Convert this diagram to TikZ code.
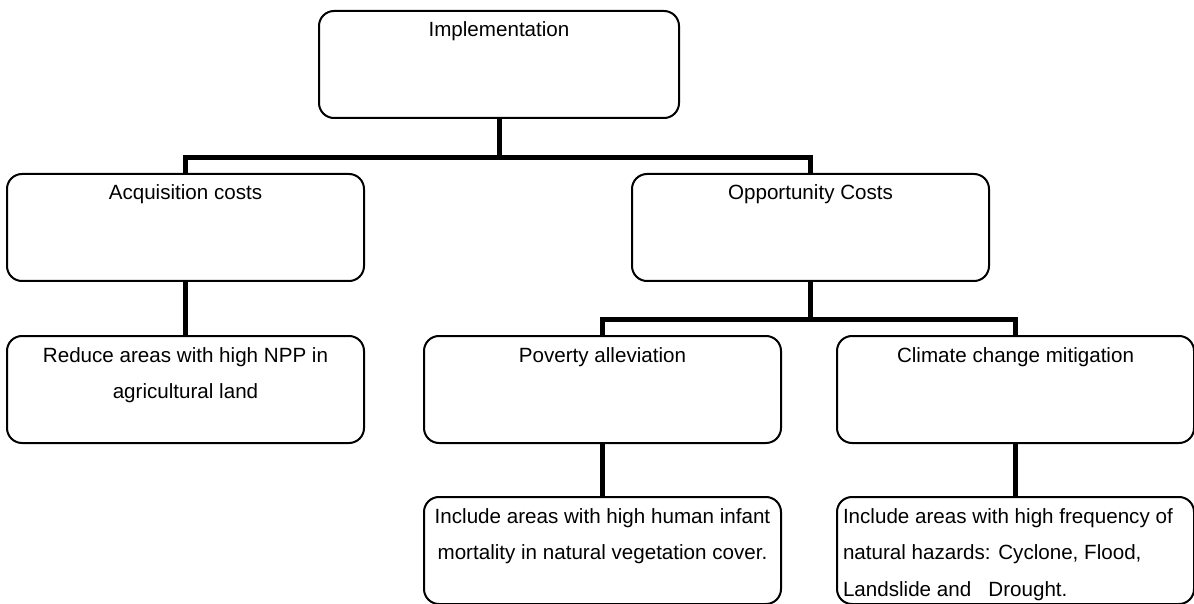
\documentclass[tikz,border=0pt]{standalone}
\usepackage{fontspec}
\setmainfont{Liberation Sans}
\usepackage{tikz}

% text sits at the top of each box
\newcommand{\boxtext}[2][\centering]{\parbox[c][53.5pt][t]{178.5pt}{\fontsize{10.3}{18.3}\selectfont#1\rule{0pt}{13pt}#2}}

\tikzset{
    box/.style={draw, line width=1pt, rounded corners=7.5pt, inner sep=0pt, anchor=north west, fill=white},
    conn/.style={line width=2.5pt}
}

\begin{document}
\begin{tikzpicture}[x=0.5pt, y=-0.5pt]
            \fill[white] (0, 0) rectangle (1194, 604);
            \useasboundingbox (0, 0) rectangle (1194, 604);

            \node[box, minimum width=180pt] (impl) at (318, 10) {\boxtext{Implementation}};

            \node[box] (acq) at (6, 173) {\boxtext{Acquisition costs}};
            \node[box] (opp) at (631, 173) {\boxtext{Opportunity Costs}};

            \node[box] (red) at (6, 335) {\boxtext{Reduce areas with high NPP in\\agricultural land}};
            \node[box] (pov) at (423, 335) {\boxtext{Poverty alleviation}};
            \node[box] (clim) at (836, 335) {\boxtext{Climate change mitigation}};

            \node[box] (inf) at (423, 496) {\boxtext{Include areas with high human infant\\mortality in natural vegetation cover.}};
            \node[box] (haz) at (836, 496) {\boxtext[\raggedright\leftskip=3pt]{Include areas with high frequency of\\natural hazards: Cyclone, Flood,\\Landslide and \ \ Drought.}};

            % tree connectors
            \draw[conn] (impl.south) -- ++(0, 39) coordinate (j1);
            \draw[conn] (acq.north) |- (j1) -| (opp.north);
            \draw[conn] (acq.south) -- (red.north);

            \draw[conn] (opp.south) -- ++(0, 38) coordinate (j2);
            \draw[conn] (pov.north) |- (j2) -| (clim.north);
            \draw[conn] (pov.south) -- (inf.north);
            \draw[conn] (clim.south) -- (haz.north);

\end{tikzpicture}
\end{document}
